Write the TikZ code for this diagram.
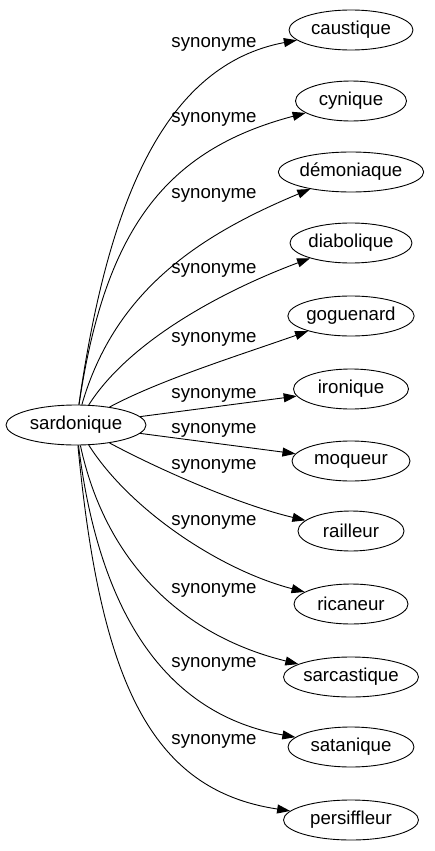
\documentclass[tikz,border=0pt]{standalone}
\usepackage{fontspec}
\setmainfont{Liberation Sans}
\usetikzlibrary{shapes.geometric,arrows.meta}
\begin{document}
\begin{tikzpicture}[x=1pt,y=-1pt,
  word/.style={draw,ellipse,inner sep=0pt,minimum height=40pt,line width=0.9pt,font=\fontsize{18.67}{20}\selectfont},
  lbl/.style={inner sep=0pt,font=\fontsize{18.67}{20}\selectfont},
  syn/.style={line width=0.9pt,-{Triangle[length=13pt,width=9pt]}}]
\useasboundingbox (0,0) rectangle (435,851);
\node[word,minimum width=140pt] (s) at (76,425) {sardonique};
\node[word,minimum width=124pt] (n1) at (351,30) {caustique};
\node[word,minimum width=111pt] (n2) at (351,101) {cynique};
\node[word,minimum width=128pt] (n3) at (351,172) {démoniaque};
\node[word,minimum width=122pt] (n4) at (351,243) {diabolique};
\node[word,minimum width=125pt] (n5) at (351,316) {goguenard};
\node[word,minimum width=115pt] (n6) at (351,389) {ironique};
\node[word,minimum width=118pt] (n7) at (351,461) {moqueur};
\node[word,minimum width=106pt] (n8) at (351,531) {railleur};
\node[word,minimum width=114pt] (n9) at (351,604) {ricaneur};
\node[word,minimum width=130pt] (n10) at (351,677) {sarcastique};
\node[word,minimum width=126pt] (n11) at (351,747) {satanique};
\node[word,minimum width=135pt] (n12) at (351,820) {persiffleur};
\node[lbl] (l1) at (214,44) {synonyme};
\node[lbl] (l2) at (214,119) {synonyme};
\node[lbl] (l3) at (214,195) {synonyme};
\node[lbl] (l4) at (214,270) {synonyme};
\node[lbl] (l5) at (214,339) {synonyme};
\node[lbl] (l6) at (214,395) {synonyme};
\node[lbl] (l7) at (214,430) {synonyme};
\node[lbl] (l8) at (214,466) {synonyme};
\node[lbl] (l9) at (214,522) {synonyme};
\node[lbl] (l10) at (214,590) {synonyme};
\node[lbl] (l11) at (214,664) {synonyme};
\node[lbl] (l12) at (214,741) {synonyme};
\draw[syn] (s) .. controls (108,200) and (165,65) .. (n1);
\draw[syn] (s) .. controls (105,230) and (165,150) .. (n2);
\draw[syn] (s) .. controls (115,290) and (200,235) .. (n3);
\draw[syn] (s) .. controls (130,340) and (225,290) .. (n4);
\draw[syn] (s) .. controls (160,380) and (240,355) .. (n5);
\draw[syn] (s) -- (n6);
\draw[syn] (s) -- (n7);
\draw[syn] (s) .. controls (160,470) and (240,505) .. (n8);
\draw[syn] (s) .. controls (130,510) and (220,570) .. (n9);
\draw[syn] (s) .. controls (105,560) and (180,635) .. (n10);
\draw[syn] (s) .. controls (100,620) and (170,715) .. (n11);
\draw[syn] (s) .. controls (100,680) and (150,790) .. (n12);
\end{tikzpicture}
\end{document}
